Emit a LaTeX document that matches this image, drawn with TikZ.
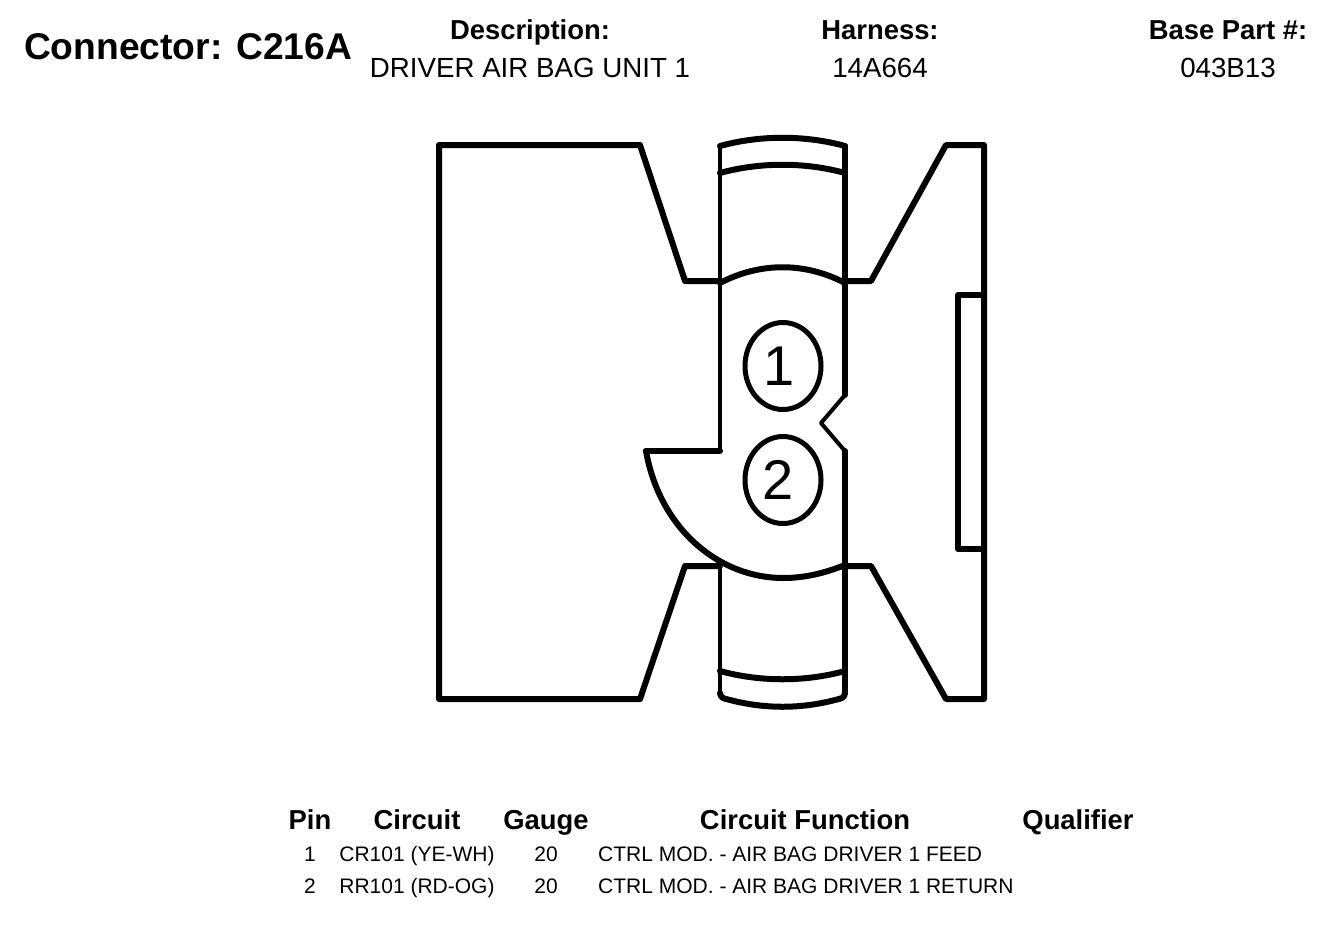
\documentclass[tikz,border=0pt]{standalone}
\usepackage{fontspec}
\setmainfont{Liberation Sans}
\usetikzlibrary{positioning, shapes.geometric}
\newcommand{\hdfont}{\fontsize{27.4}{30}\selectfont\bfseries}
\newcommand{\valfont}{\fontsize{27.7}{30}\selectfont}
\newcommand{\rowfont}{\fontsize{21}{24}\selectfont}
\tikzset{
  heavy/.style = {line width=6pt, line join=round, line cap=round},
  light/.style = {line width=4pt, line join=round, line cap=round},
  pinhole/.style = {draw, ellipse, line width=5pt, minimum width=76pt, minimum height=87pt, inner sep=0pt, font=\fontsize{56}{60}\selectfont},
  hd/.style = {anchor=base, inner sep=0pt, font=\hdfont},
  val/.style = {anchor=base, inner sep=0pt, font=\valfont},
  cell/.style = {anchor=base, inner sep=0pt, font=\rowfont},
  func/.style = {anchor=base west, inner sep=0pt, font=\rowfont}
}

\begin{document}
\begin{tikzpicture}[x=1pt, y=-1pt]
  \useasboundingbox (0,0) rectangle (1344,938);

  % title block
  \node[anchor=base, inner sep=0pt, font=\fontsize{37.2}{40}\selectfont\bfseries] (title) at (188,59) {Connector: C216A};
  \path (530,39) node[hd] (desc) {Description:}
      (530,77) node[val] (descval) {DRIVER AIR BAG UNIT 1}
      (880,39) node[hd] (harn) {Harness:}
      (880,77) node[val] (harnval) {14A664}
      (1228,39) node[hd] (base) {Base Part \#:}
      (1228,77) node[val] (baseval) {043B13};

  % housing
  \draw[heavy] (720,281) -- (685,281) -- (640,145) -- (439,145) -- (439,699) -- (640,699) -- (685,566) -- (720,566);
  \draw[heavy] (845,281) -- (871,281) -- (946,145) -- (984,145) -- (984,699) -- (946,699) -- (871,566) -- (845,566);
  \draw[heavy] (984,295) -- (958,295) -- (958,549) -- (984,549);

  % latch
  \draw[light] (720,146) -- (720,451);
  \draw[heavy] (720,451) -- (646,451);
  \draw[light] (720,566) -- (720,693);
  \draw[heavy] (845,146) -- (845,395);
  \draw[light] (845,395) -- (821,423) -- (845,451);
  \draw[heavy] (845,451) -- (845,693);
  \draw[heavy] (720,146) .. controls (760,135) and (805,135) .. (845,146);
  \draw[heavy] (720,173) .. controls (760,162) and (805,162) .. (845,173);
  \draw[heavy] (720,283) .. controls (760,262) and (805,262) .. (845,283);
  \draw[heavy] (720,671) .. controls (760,682) and (805,682) .. (845,671);
  \draw[heavy] (720,693) .. controls (721,698) and (722,698) .. (730,700) .. controls (765,709) and (800,709) .. (835,700) .. controls (843,698) and (844,698) .. (845,693);
  \draw[heavy] (646,451) .. controls (660,530) and (720,578) .. (783,578) .. controls (805,578) and (825,573) .. (845,565);

  % pins
  \node[pinhole] (pin1) at (783,366) {\kern-7pt 1};
  \node[pinhole] (pin2) at (783,480) {\kern-9pt 2};

  % pin table
  \path (310,829) node[hd] (pinhd) {Pin}
      (417,829) node[hd] (circhd) {Circuit}
      (546,829) node[hd] (gaugehd) {Gauge}
      (805,829) node[hd] (funchd) {Circuit Function}
      (1078,829) node[hd] (qualhd) {Qualifier};
  \path (310,861) node[cell] (num1) {1}
      (417,861) node[cell] (circ1) {CR101 (YE-WH)}
      (546,861) node[cell] (gauge1) {20}
      (598,861) node[func] (func1) {CTRL MOD. - AIR BAG DRIVER 1 FEED};
  \path (310,893) node[cell] (num2) {2}
      (417,893) node[cell] (circ2) {RR101 (RD-OG)}
      (546,893) node[cell] (gauge2) {20}
      (598,893) node[func] (func2) {CTRL MOD. - AIR BAG DRIVER 1 RETURN};
\end{tikzpicture}
\end{document}
